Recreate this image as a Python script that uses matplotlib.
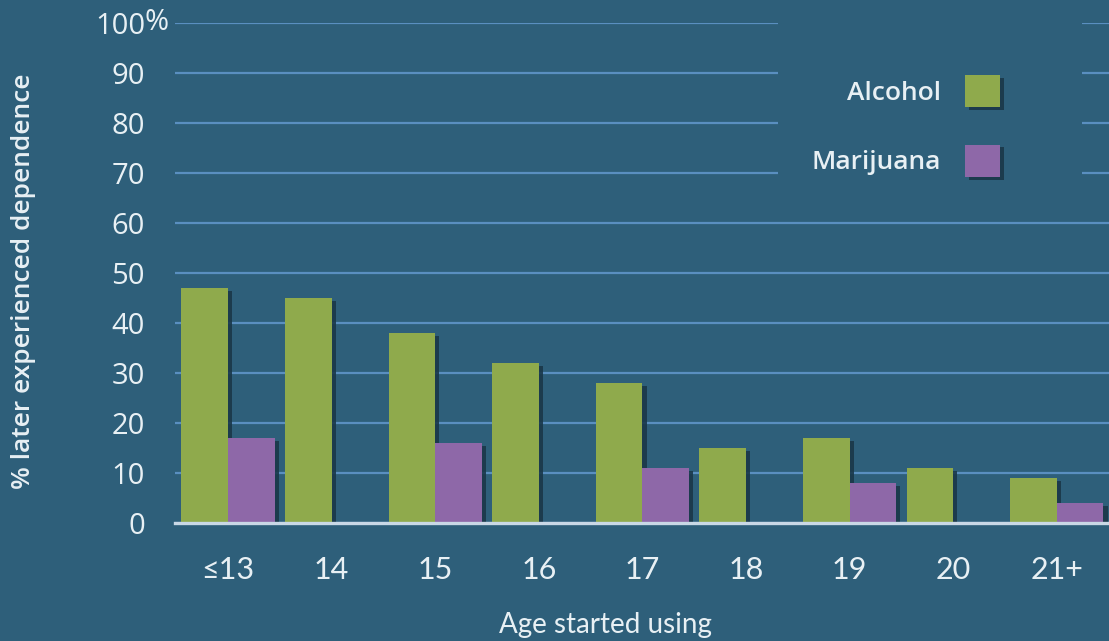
import numpy as np
import matplotlib
matplotlib.use("Agg")
import matplotlib.pyplot as plt
import matplotlib.patheffects as pe
from matplotlib.patches import Patch, Rectangle

# dependence rates by age of first use
ages = ["≤13", "14", "15", "16", "17", "18", "19", "20", "21+"]
alcohol = [47, 45, 38, 32, 28, 15, 17, 11, 9]
# marijuana only reported for every other age group
marijuana_idx = [0, 2, 4, 6, 8]
marijuana = [17, 16, 11, 8, 4]
yticks = [0, 10, 20, 30, 40, 50, 60, 70, 80, 90, 100]

bg = "#2E5F7A"
green = "#8FAA4C"
purple = "#8E68A8"
grid_c = "#5A8FC0"
txt = "#E8F0F4"

fig = plt.figure(figsize=(11.09, 6.41), dpi=100, facecolor=bg)
ax = fig.add_axes([175 / 1109, 118 / 641, 934 / 1109, 500 / 641])
ax.set_facecolor(bg)

shadow = [pe.SimplePatchShadow(offset=(3, -2), shadow_rgbFace="#1A3849", alpha=0.9), pe.Normal()]

x = np.arange(len(ages))
w = 0.45
b1 = ax.bar(x - w / 2, alcohol, w, color=green, zorder=3, label="Alcohol")
b2 = ax.bar(np.array(marijuana_idx) + w / 2, marijuana, w, color=purple, zorder=3, label="Marijuana")
for b in list(b1) + list(b2):
    b.set_path_effects(shadow)

ax.set_xlim(-0.512, 8.504)
ax.set_ylim(0, 100)

# grid and axes
ax.set_yticks(yticks)
ax.yaxis.grid(True, color=grid_c, linewidth=1.6, zorder=0)
ax.set_axisbelow(True)
for s in ["top", "right", "left"]:
    ax.spines[s].set_visible(False)
ax.spines["bottom"].set_color("#C9D8E6")
ax.spines["bottom"].set_linewidth(2.4)
ax.spines["bottom"].set_zorder(4)

ax.tick_params(axis="y", length=0, pad=21.6, labelcolor=txt)
ax.set_yticklabels([str(v) for v in yticks], fontsize=21, family="Open Sans")
ax.annotate("%", xy=(0, 100), xycoords=("axes fraction", "data"), xytext=(-21.6, 0),
            textcoords="offset points", ha="left", va="center", fontsize=21,
            family="Open Sans", color=txt, annotation_clip=False)

ax.set_xticks(x)
ax.set_xticklabels(ages, fontsize=22, family="Lato")
ax.tick_params(axis="x", length=0, pad=24, labelcolor=txt)

# blank panel behind the legend hides the grid there
ax.add_patch(Rectangle((0.6456, 0.646), 0.3254, 0.4, transform=ax.transAxes,
                       facecolor=bg, edgecolor="none", zorder=1, clip_on=False))

handles = [Patch(facecolor=green, path_effects=shadow), Patch(facecolor=purple, path_effects=shadow)]
leg = ax.legend(handles, ["Alcohol", "Marijuana"], loc="upper right",
                bbox_to_anchor=(1000 / 1109, 1 - 75 / 641), bbox_transform=fig.transFigure,
                frameon=False, markerfirst=False, borderpad=0, borderaxespad=0,
                handlelength=1.33, handleheight=1.5, handletextpad=0.9, labelspacing=1.42,
                prop={"family": "Open Sans", "size": 19, "weight": "semibold"})
for t in leg.get_texts():
    t.set_color(txt)

fig.text(605 / 1109, 1 - 625 / 641, "Age started using", ha="center", va="center",
         fontsize=20, family="Lato", color=txt)
fig.text(24 / 1109, 1 - 281 / 641, "% later experienced dependence", rotation=90,
         ha="center", va="center", fontsize=19, family="Open Sans", weight="semibold", color=txt)

fig.savefig("out.png", dpi=100, facecolor=bg)
